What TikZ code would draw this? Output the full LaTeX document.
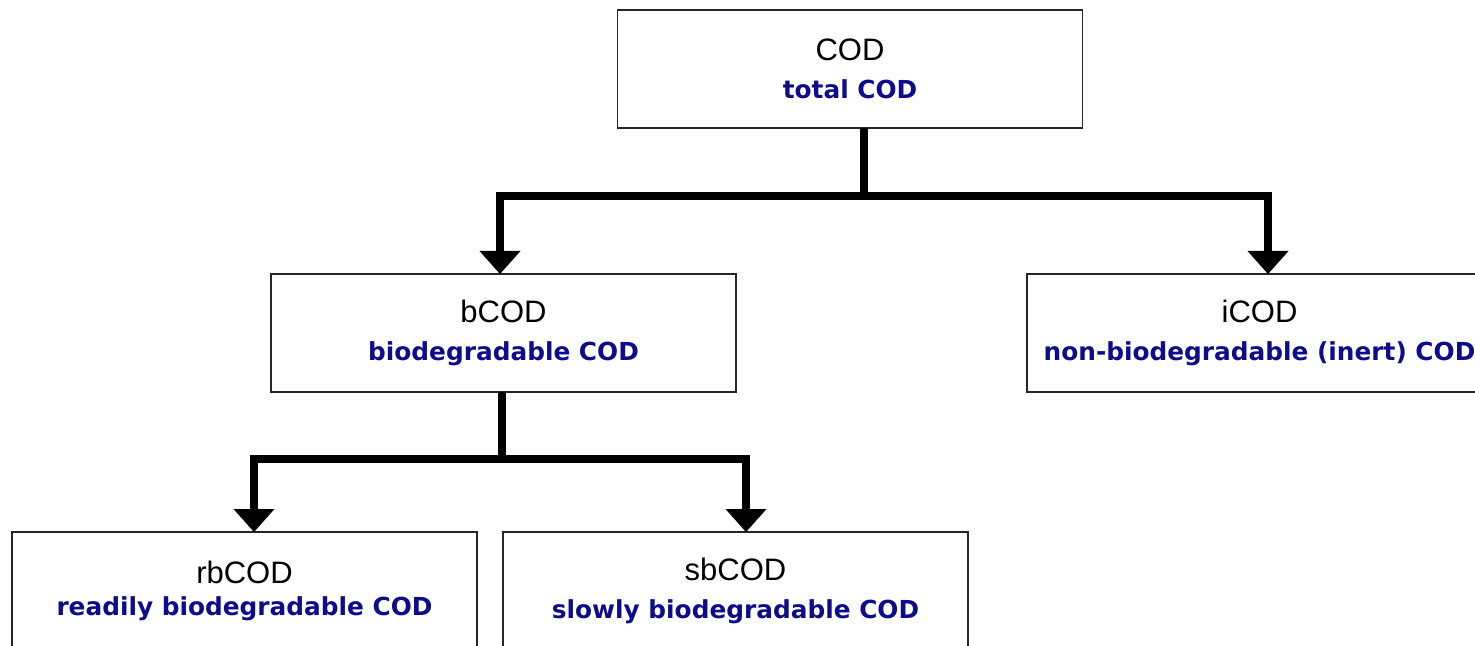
\documentclass[tikz,border=0pt]{standalone}
\usepackage{fontspec}
\setmainfont{Liberation Sans}
\newfontfamily\verdfont{DejaVu Sans}
\usetikzlibrary{arrows.meta}
\definecolor{codblue}{RGB}{12,12,140}
\newcommand{\codtext}[1]{{\verdfont\bfseries\fontsize{12.4}{19}\selectfont\color{codblue}#1}}

\begin{document}
\begin{tikzpicture}[x=0.5pt,y=-0.5pt,
  box/.style={draw=black!85,line width=0.85pt,minimum width=232.5pt,minimum height=59pt,
    inner sep=0pt,outer sep=0pt,align=center,font=\fontsize{15.5}{19}\selectfont},
  link/.style={line width=3.75pt,line join=miter},
  tips/.style={{Triangle[width=20.5pt,length=11.5pt,line width=0pt]}-{Triangle[width=20.5pt,length=11.5pt,line width=0pt]}}]
\useasboundingbox (0,0) rectangle (1475,646);
\clip (0,0) rectangle (1475,646);
\node[box] (cod) at (850,69) {COD\\\codtext{total COD}};
\node[box] (bcod) at (503.5,333) {bCOD\\\codtext{biodegradable COD}};
\node[box] (icod) at (1259.5,333) {iCOD\\\codtext{non-biodegradable (inert) COD}};
\node[box] (rbcod) at (244.5,591) {rbCOD\\[-3pt]\codtext{readily biodegradable COD}};
\node[box] (sbcod) at (735.5,591) {sbCOD\\\codtext{slowly biodegradable COD}};
\coordinate (j1) at (864,196);
\coordinate (j2) at (502,459);
\draw[link] ([xshift=7pt]cod.south) -- (j1);
\draw[link,tips] ([xshift=-1.75pt]bcod.north) |- (j1) -| ([xshift=4.25pt]icod.north);
\draw[link] ([xshift=-0.75pt]bcod.south) -- (j2);
\draw[link,tips] ([xshift=4.75pt]rbcod.north) |- (j2) -| ([xshift=5.25pt]sbcod.north);
\end{tikzpicture}
\end{document}
